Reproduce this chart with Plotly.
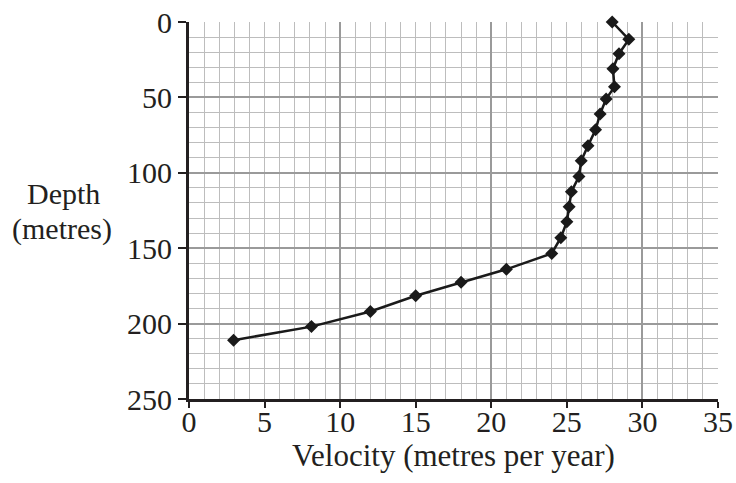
import plotly.graph_objects as go

velocity = [28.0, 29.1, 28.45, 28.05, 28.15, 27.6, 27.2, 26.9, 26.4, 25.95, 25.8,
            25.3, 25.15, 25.0, 24.6, 24.0, 21.0, 18.0, 15.0, 12.0, 8.1, 2.95]
depth = [0, 11.5, 21, 31, 43, 51, 61, 71.5, 82, 92, 102.5,
         112.5, 122.5, 132.5, 143, 153.5, 164, 172.5, 181.5, 192, 202, 211]

x_ticks = [0, 5, 10, 15, 20, 25, 30, 35]
y_ticks = [0, 50, 100, 150, 200, 250]

FONT = "Liberation Serif"
fig = go.Figure()

# invisible trace on overlay axes for the major grid
fig.add_trace(go.Scatter(x=[0, 35], y=[0, 250], xaxis="x2", yaxis="y2",
                         mode="markers", marker=dict(opacity=0), hoverinfo="skip",
                         showlegend=False))

fig.add_trace(go.Scatter(x=velocity, y=depth, mode="lines+markers",
                         line=dict(color="#1a1a1a", width=2.5),
                         marker=dict(symbol="diamond", size=10, color="#1a1a1a"),
                         cliponaxis=False, showlegend=False))

def py(p):
    return (399 - p) / 377

fig.update_layout(
    width=736, height=483,
    margin=dict(l=189, r=18, t=22, b=84),
    paper_bgcolor="white", plot_bgcolor="white",
    font=dict(family=FONT, size=30, color="#231f20"),
    xaxis=dict(range=[0, 35], tickvals=x_ticks, ticks="outside", ticklen=6,
               tickwidth=1.5, tickcolor="#231f20", automargin=False,
               ticklabelstandoff=-12,
               showgrid=False, zeroline=False,
               showline=True, linecolor="#231f20", linewidth=3,
               minor=dict(dtick=1, showgrid=True, gridcolor="#bdbdbd", gridwidth=1.2),
               title=dict(text="Velocity (metres per year)", standoff=2,
                          font=dict(family=FONT, size=31)),
               tickfont=dict(family=FONT, size=30)),
    yaxis=dict(range=[250, 0], tickvals=y_ticks, ticks="outside", ticklen=8,
               tickwidth=1.5, tickcolor="#231f20", automargin=False,
               showgrid=False, zeroline=False,
               showline=True, linecolor="#231f20", linewidth=3,
               minor=dict(dtick=10, showgrid=True, gridcolor="#bdbdbd", gridwidth=1.2),
               tickfont=dict(family=FONT, size=30)),
    xaxis2=dict(range=[0, 35], overlaying="x", dtick=10, showgrid=True,
                gridcolor="#9a9a9a", gridwidth=2.2, showticklabels=False,
                ticks="", zeroline=False, showline=False, automargin=False),
    yaxis2=dict(range=[250, 0], overlaying="y", dtick=50, showgrid=True,
                gridcolor="#9a9a9a", gridwidth=2.2, showticklabels=False,
                ticks="", zeroline=False, showline=False, automargin=False),
    annotations=[
        dict(text="Depth", xref="paper", yref="paper",
             x=(63 - 189) / 529, y=py(193), showarrow=False,
             xanchor="center", yanchor="middle",
             font=dict(family=FONT, size=30, color="#231f20")),
        dict(text="(metres)", xref="paper", yref="paper",
             x=(62 - 189) / 529, y=py(229), showarrow=False,
             xanchor="center", yanchor="middle",
             font=dict(family=FONT, size=30, color="#231f20")),
    ],
)

fig.write_html("out.html", config={"displayModeBar": False},
               post_script="document.body.style.margin='0';")
